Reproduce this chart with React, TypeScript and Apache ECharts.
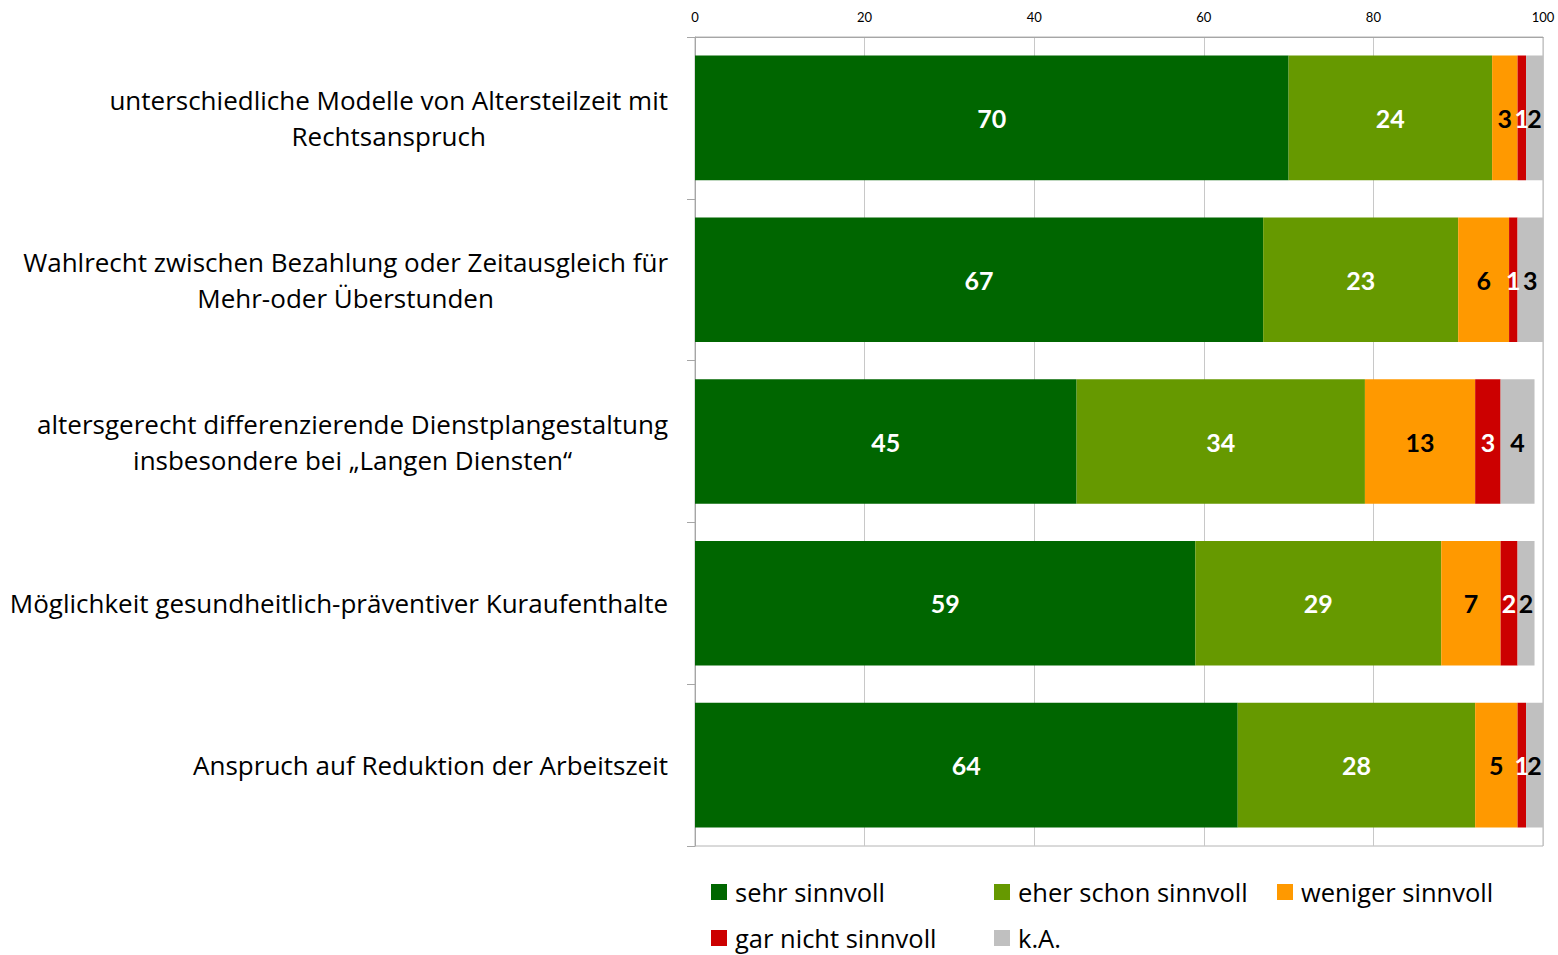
import React, { useEffect, useRef } from "react";
import * as echarts from "echarts";

const categories = [
  "unterschiedliche Modelle von Altersteilzeit mit\nRechtsanspruch",
  "Wahlrecht zwischen Bezahlung oder Zeitausgleich für\nMehr-oder Überstunden",
  "altersgerecht differenzierende Dienstplangestaltung\ninsbesondere bei „Langen Diensten“",
  "Möglichkeit gesundheitlich-präventiver Kuraufenthalte",
  "Anspruch auf Reduktion der Arbeitszeit",
];

const seriesNames = ["sehr sinnvoll", "eher schon sinnvoll", "weniger sinnvoll", "gar nicht sinnvoll", "k.A."];
const sehrSinnvoll = [70, 67, 45, 59, 64];
const eherSchon = [24, 23, 34, 29, 28];
const weniger = [3, 6, 13, 7, 5];
const garNicht = [1, 1, 3, 2, 1];
const keineAngabe = [2, 3, 4, 2, 2];
const xTicks = { min: 0, max: 100, interval: 20 };

const colors = ["#006600", "#669900", "#FF9900", "#CC0000", "#C0C0C0"];
const labelColors = ["#ffffff", "#ffffff", "#000000", "#ffffff", "#000000"];
const FONT = "'Open Sans', sans-serif";
const NUMFONT = "Lato, 'Open Sans', sans-serif";

export default function App() {
  const ref = useRef<HTMLDivElement>(null);
  useEffect(() => {
    if (!ref.current) return;
    const chart = echarts.init(ref.current, null, { renderer: "svg" });
    const values = [sehrSinnvoll, eherSchon, weniger, garNicht, keineAngabe];
    chart.setOption({
      animation: false,
      textStyle: { fontFamily: FONT },
      grid: {
        left: 695,
        top: 37,
        width: 848,
        height: 809,
        show: true,
        borderColor: "#b4b4b4",
        borderWidth: 1,
        backgroundColor: "transparent",
      },
      xAxis: {
        type: "value",
        position: "top",
        min: xTicks.min,
        max: xTicks.max,
        interval: xTicks.interval,
        axisLine: { show: true, lineStyle: { color: "#a6a6a6" } },
        axisTick: { show: false },
        splitLine: { show: true, lineStyle: { color: "#c8c8c8" } },
        axisLabel: { color: "#000", fontSize: 13, margin: 14, fontFamily: NUMFONT },
      },
      yAxis: {
        type: "category",
        inverse: true,
        data: categories,
        axisLine: { show: true, lineStyle: { color: "#a6a6a6" } },
        axisTick: { show: true, length: 8, interval: 0, lineStyle: { color: "#a6a6a6" } },
        splitLine: { show: false },
        axisLabel: {
          interval: 0,
          margin: 27,
          color: "#000",
          fontSize: 26,
          lineHeight: 36,
          fontFamily: FONT,
          formatter: (v: string) =>
            v
              .split("\n")
              .map((l) => `{c|${l}}`)
              .join("\n"),
          rich: {
            c: { align: "center", fontSize: 26, lineHeight: 36, color: "#000", fontFamily: FONT },
          },
        },
      },
      legend: {
        left: 711,
        top: 879,
        width: 840,
        padding: 0,
        itemWidth: 16,
        itemHeight: 16,
        itemGap: 20,
        icon: "rect",
        data: seriesNames,
        textStyle: {
          color: "#000",
          fontSize: 25.5,
          lineHeight: 26,
          width: 239,
          fontFamily: FONT,
          padding: [0, 0, 0, 3],
        },
      },
      series: seriesNames.map((name, i) => ({
        name,
        type: "bar",
        stack: "total",
        barWidth: "77%",
        data: values[i],
        itemStyle: { color: colors[i] },
        label: {
          show: true,
          position: "inside",
          color: labelColors[i],
          fontSize: 25,
          fontWeight: "bold",
          fontFamily: NUMFONT,
        },
      })),
    });
    return () => chart.dispose();
  }, []);
  return (
    <div
      ref={ref}
      style={{ position: "absolute", left: 0, top: 0, width: 1558, height: 955 }}
    />
  );
}
